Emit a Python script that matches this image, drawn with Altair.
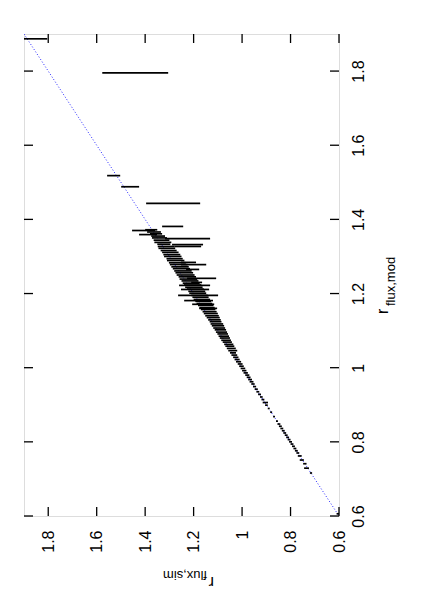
import altair as alt
import pandas as pd

# r_flux,mod (vertical axis, right) and r_flux,sim error bar ends (horizontal axis, reversed)
mod = [
    # scattered points with large errors
    1.887, 1.795, 1.518, 1.488, 1.443, 1.381, 1.370, 1.359, 1.348, 1.332, 1.327,
    1.284, 1.278, 1.265, 1.241, 1.230, 1.222, 1.211, 1.195, 1.181, 1.171, 1.160,
    # dense band
    1.372, 1.366, 1.361, 1.355, 1.350, 1.344, 1.338, 1.333, 1.327, 1.322, 1.316,
    1.311, 1.305, 1.300, 1.294, 1.289, 1.283, 1.278, 1.272, 1.267, 1.261, 1.256,
    1.250, 1.245, 1.239, 1.234, 1.228, 1.223, 1.217, 1.212, 1.206, 1.201, 1.195,
    1.190, 1.184, 1.179, 1.173, 1.168, 1.162, 1.157, 1.151, 1.146, 1.140, 1.135,
    1.129, 1.124, 1.118, 1.113, 1.107, 1.102, 1.096, 1.091, 1.085, 1.080, 1.074,
    1.069, 1.063, 1.058, 1.052, 1.046,
    # lower part
    1.040, 1.034, 1.028, 1.022, 1.016, 1.010, 1.004, 0.998, 0.992, 0.986, 0.980,
    0.974, 0.968, 0.962, 0.956, 0.949, 0.942, 0.935, 0.928, 0.921, 0.914, 0.906,
    0.899, 0.890, 0.880, 0.868, 0.856, 0.848, 0.842, 0.836, 0.830, 0.824, 0.818,
    0.812, 0.806, 0.800, 0.794, 0.788, 0.782, 0.776, 0.770, 0.762, 0.751, 0.741,
    0.729, 0.716, 0.606,
]
sim_hi = [
    1.930, 1.577, 1.557, 1.499, 1.396, 1.330, 1.454, 1.425, 1.318, 1.289, 1.280,
    1.252, 1.252, 1.231, 1.227, 1.210, 1.260, 1.252, 1.264, 1.239, 1.206, 1.177,
    1.400, 1.392, 1.380, 1.375, 1.372, 1.365, 1.362, 1.350, 1.348, 1.345, 1.336,
    1.330, 1.325, 1.322, 1.312, 1.310, 1.302, 1.298, 1.292, 1.286, 1.280, 1.275,
    1.270, 1.262, 1.258, 1.250, 1.245, 1.240, 1.235, 1.228, 1.222, 1.218, 1.210,
    1.205, 1.200, 1.193, 1.188, 1.182, 1.176, 1.170, 1.163, 1.158, 1.152, 1.146,
    1.140, 1.134, 1.130, 1.125, 1.119, 1.113, 1.108, 1.102, 1.097, 1.092, 1.086,
    1.080, 1.074, 1.069, 1.063, 1.057,
    1.050, 1.044, 1.037, 1.031, 1.025, 1.018, 1.012, 1.006, 1.000, 0.994, 0.987,
    0.981, 0.975, 0.969, 0.962, 0.955, 0.948, 0.941, 0.934, 0.926, 0.920, 0.915,
    0.905, 0.894, 0.884, 0.872, 0.860, 0.854, 0.848, 0.842, 0.836, 0.830, 0.824,
    0.818, 0.812, 0.806, 0.800, 0.794, 0.788, 0.782, 0.776, 0.770, 0.762, 0.748,
    0.744, 0.720, 0.610,
]
sim_lo = [
    1.804, 1.305, 1.503, 1.425, 1.173, 1.243, 1.359, 1.351, 1.132, 1.161, 1.169,
    1.190, 1.148, 1.177, 1.107, 1.165, 1.132, 1.136, 1.099, 1.120, 1.115, 1.103,
    1.350, 1.335, 1.330, 1.318, 1.310, 1.300, 1.292, 1.296, 1.280, 1.276, 1.270,
    1.262, 1.255, 1.250, 1.245, 1.238, 1.232, 1.225, 1.220, 1.215, 1.208, 1.202,
    1.196, 1.190, 1.185, 1.180, 1.175, 1.168, 1.163, 1.158, 1.152, 1.148, 1.142,
    1.138, 1.132, 1.128, 1.123, 1.118, 1.113, 1.110, 1.105, 1.100, 1.096, 1.092,
    1.088, 1.085, 1.078, 1.074, 1.070, 1.066, 1.062, 1.058, 1.054, 1.050, 1.046,
    1.042, 1.036, 1.032, 1.026, 1.020,
    1.025, 1.020, 1.015, 1.010, 1.004, 0.998, 0.993, 0.987, 0.982, 0.976, 0.970,
    0.965, 0.959, 0.953, 0.948, 0.942, 0.935, 0.929, 0.922, 0.915, 0.908, 0.893,
    0.894, 0.886, 0.876, 0.864, 0.852, 0.842, 0.836, 0.830, 0.824, 0.818, 0.812,
    0.806, 0.800, 0.794, 0.788, 0.782, 0.776, 0.770, 0.764, 0.754, 0.745, 0.734,
    0.724, 0.711, 0.600,
]
assert len(mod) == len(sim_hi) == len(sim_lo)

diag = [0.6, 1.9]
tick_values = [0.6, 0.8, 1.0, 1.2, 1.4, 1.6, 1.8]

W, H = 315, 482
FONT = "Liberation Sans"

df = pd.DataFrame({"mod": mod, "hi": sim_hi, "lo": sim_lo})
diag_df = pd.DataFrame({"sim": diag, "mod": diag})
ticks_df = pd.DataFrame({"v": tick_values})

xscale = alt.Scale(domain=[0.6, 1.9], reverse=True, nice=False, zero=False)
yscale = alt.Scale(domain=[0.6, 1.9], nice=False, zero=False)

xaxis = alt.Axis(values=tick_values, format=".1~f", labelAngle=270, labelAlign="right",
                 labelBaseline="middle", labelPadding=14, ticks=False, domain=False,
                 grid=False, title=None, labelFont=FONT, labelFontSize=16,
                 labelColor="black", orient="bottom")
yaxis = alt.Axis(values=tick_values, format=".1~f", labelAngle=270, labelAlign="center",
                 labelBaseline="top", labelPadding=11, ticks=False, domain=False,
                 grid=False, title=None, labelFont=FONT, labelFontSize=16,
                 labelColor="black", orient="right")

bars = alt.Chart(df).mark_rule(color="black", strokeWidth=1.7, clip=True).encode(
    x=alt.X("hi:Q", scale=xscale, axis=xaxis),
    x2="lo:Q",
    y=alt.Y("mod:Q", scale=yscale, axis=yaxis),
)

line = alt.Chart(diag_df).mark_line(color="#0000ff", strokeWidth=1, strokeDash=[1, 2],
                                    opacity=0.85, clip=True).encode(
    x=alt.X("sim:Q", scale=xscale),
    y=alt.Y("mod:Q", scale=yscale),
)

tb = alt.Chart(ticks_df).mark_rule(color="black", strokeWidth=1.3)
ticks_bottom = tb.encode(x=alt.X("v:Q", scale=xscale), y=alt.value(H), y2=alt.value(H - 9))
ticks_top = tb.encode(x=alt.X("v:Q", scale=xscale), y=alt.value(0), y2=alt.value(9))
ticks_left = tb.encode(y=alt.Y("v:Q", scale=yscale), x=alt.value(0), x2=alt.value(9))
ticks_right = tb.encode(y=alt.Y("v:Q", scale=yscale), x=alt.value(W), x2=alt.value(W - 9))

one = pd.DataFrame({"a": [0]})
r_mod = alt.Chart(one).mark_text(text="r", angle=270, align="left", baseline="alphabetic",
                                 font=FONT, fontSize=16, color="black").encode(
    x=alt.value(364), y=alt.value(280))
sub_mod = alt.Chart(one).mark_text(text="flux,mod", angle=270, align="left",
                                   baseline="alphabetic", font=FONT, fontSize=13,
                                   color="black").encode(x=alt.value(371), y=alt.value(272))
r_sim = alt.Chart(one).mark_text(text="r", angle=180, align="left", baseline="alphabetic",
                                 font=FONT, fontSize=16, color="black").encode(
    x=alt.value(190), y=alt.value(543))
sub_sim = alt.Chart(one).mark_text(text="flux,sim", angle=180, align="left",
                                   baseline="alphabetic", font=FONT, fontSize=13,
                                   color="black").encode(x=alt.value(183), y=alt.value(537))

chart = alt.layer(
    line, bars, ticks_bottom, ticks_top, ticks_left, ticks_right,
    r_mod, sub_mod, r_sim, sub_sim,
).properties(
    width=W, height=H,
    autosize="none",
    padding={"left": 16, "top": 26, "right": 70, "bottom": 76},
).configure_view(stroke="black", strokeWidth=1.5).configure(background="white")

chart.save("out.html", embed_options={"renderer": "svg", "actions": False})
